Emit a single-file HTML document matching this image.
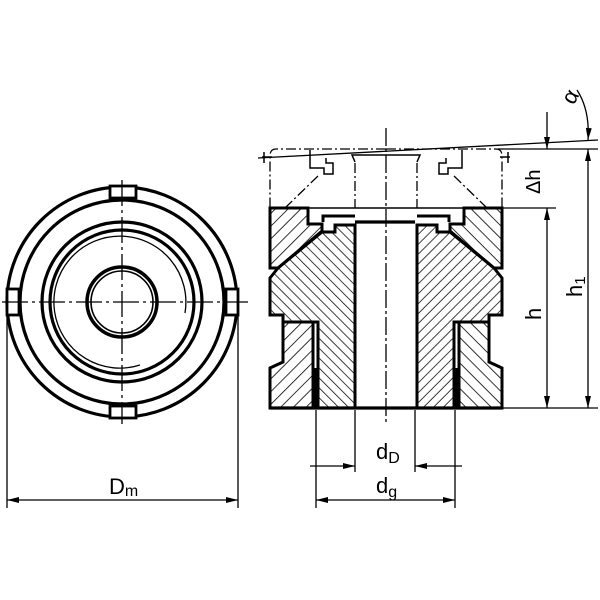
<!DOCTYPE html>
<html><head><meta charset="utf-8"><style>html,body{margin:0;padding:0;background:#fff}svg{display:block}</style></head><body>
<svg width="600" height="600" viewBox="0 0 600 600" xmlns="http://www.w3.org/2000/svg" font-family="Liberation Sans, sans-serif">
<defs>
<pattern id="hA" width="9" height="9" patternUnits="userSpaceOnUse" patternTransform="rotate(45)"><line x1="0" y1="0" x2="0" y2="9" stroke="#000" stroke-width="1.6"/></pattern>
<pattern id="hB" width="7" height="7" patternUnits="userSpaceOnUse" patternTransform="rotate(-45)"><line x1="0" y1="0" x2="0" y2="7" stroke="#000" stroke-width="1.5"/></pattern>
<marker id="ar" viewBox="0 0 12 6" refX="12" refY="3" markerWidth="13" markerHeight="6" orient="auto" markerUnits="userSpaceOnUse"><path d="M0,0L12,3L0,6z" fill="#000"/></marker>
</defs>
<!-- LEFT VIEW -->
<g fill="none" stroke="#000">
<circle cx="122" cy="302" r="115" stroke-width="3.2"/>
<circle cx="122" cy="302" r="102" stroke-width="3.2"/>
<circle cx="122" cy="302" r="80" stroke-width="3.2"/>
<circle cx="122" cy="302" r="72" stroke-width="3.2"/>
<path d="M185,313 A66,66 0 1 0 140,365" stroke-width="1.3"/>
<circle cx="122" cy="302" r="35" stroke-width="3.5"/>
<circle cx="122" cy="302" r="31" stroke-width="1.6"/>
<g stroke-width="2.8" fill="#fff">
<rect x="110" y="186" width="26" height="12"/>
<rect x="110" y="406" width="26" height="12"/>
<rect x="7" y="289" width="12" height="26"/>
<rect x="226" y="289" width="12" height="26"/>
</g>
<g stroke-width="1.3" stroke-dasharray="26,4,3,4">
<line x1="2" y1="302" x2="248" y2="302"/>
<line x1="122" y1="180" x2="122" y2="424"/>
</g>
<line x1="7" y1="315" x2="7" y2="508" stroke-width="1.3"/>
<line x1="238" y1="315" x2="238" y2="508" stroke-width="1.3"/>
</g>
<line x1="122" y1="500" x2="7" y2="500" stroke="#000" stroke-width="1.3" marker-end="url(#ar)"/>
<line x1="122" y1="500" x2="238" y2="500" stroke="#000" stroke-width="1.3" marker-end="url(#ar)"/>
<text x="109" y="494" font-size="22">D<tspan font-size="16" dy="2">m</tspan></text>

<!-- RIGHT VIEW -->
<g id="half">
<polygon points="270,208 308,208 308,224 322,224 322,231 278,268 270,268" fill="url(#hA)" stroke="#000" stroke-width="3"/>
<polygon points="270,278 278,268 322,232 335,232 335,225 355,225 355,408 318,408 318,322 283,322 283,315 270,315" fill="url(#hB)" stroke="#000" stroke-width="3"/>
<polygon points="283,322 313,322 313,408 270,408 270,368 283,362" fill="url(#hA)" stroke="#000" stroke-width="3"/>
<rect x="313" y="368" width="5" height="40" fill="#000"/>
<polyline points="323,222 323,216 355,216" fill="none" stroke="#000" stroke-width="3"/>
<g fill="none" stroke="#000" stroke-width="1.3" stroke-dasharray="10,3,2,3">
<path d="M386,149 L276,149 Q270,149 270,156 L270,208"/>
<line x1="318" y1="176" x2="286" y2="207"/>
<line x1="355" y1="163" x2="355" y2="208"/>
</g>
<g fill="none" stroke="#000" stroke-width="1.5">
<polyline points="310,150 310,168 324,168 324,174 333,174 333,163 326,163 326,158"/>
<polyline points="386,155 352,155 355,162"/>
<line x1="262" y1="157" x2="272" y2="157"/>
<line x1="264" y1="152" x2="264" y2="163"/>
</g>
</g>
<use href="#half" transform="translate(772,0) scale(-1,1)"/>
<line x1="355" y1="222" x2="415" y2="222" stroke="#000" stroke-width="3.2"/>
<line x1="270" y1="408" x2="502" y2="408" stroke="#000" stroke-width="3.2"/>
<line x1="270" y1="208" x2="502" y2="208" stroke="#000" stroke-width="1.6"/>
<line x1="386" y1="128" x2="386" y2="425" stroke="#000" stroke-width="1.3" stroke-dasharray="18,3,3,3"/>
<g stroke="#000" stroke-width="1.3" fill="none">
<line x1="258" y1="158" x2="598" y2="140"/>
<line x1="498" y1="149" x2="598" y2="149"/>
<line x1="502" y1="208" x2="556" y2="208"/>
<line x1="502" y1="408" x2="598" y2="408"/>
<line x1="547" y1="112" x2="547" y2="149" marker-end="url(#ar)"/>
<line x1="547" y1="250" x2="547" y2="208" marker-end="url(#ar)"/>
<line x1="547" y1="300" x2="547" y2="408" marker-end="url(#ar)"/>
<line x1="588" y1="190" x2="588" y2="149" marker-end="url(#ar)"/>
<line x1="588" y1="300" x2="588" y2="408" marker-end="url(#ar)"/>
<line x1="588" y1="190" x2="588" y2="300"/>
<line x1="547" y1="250" x2="547" y2="300"/>
<path d="M577,90 Q590,110 588,140" marker-end="url(#ar)"/>
<line x1="316" y1="410" x2="316" y2="508"/>
<line x1="455" y1="410" x2="455" y2="508"/>
<line x1="355" y1="410" x2="355" y2="472"/>
<line x1="415" y1="410" x2="415" y2="472"/>
<line x1="310" y1="466" x2="355" y2="466" marker-end="url(#ar)"/>
<line x1="462" y1="466" x2="415" y2="466" marker-end="url(#ar)"/>
<line x1="386" y1="500" x2="316" y2="500" marker-end="url(#ar)"/>
<line x1="386" y1="500" x2="455" y2="500" marker-end="url(#ar)"/>
</g>
<text x="540" y="194" font-size="20" transform="rotate(-90 540 194)">Δh</text>
<text x="541" y="320" font-size="22" transform="rotate(-90 541 320)">h</text>
<text x="582" y="297" font-size="22" transform="rotate(-90 582 297)">h<tspan font-size="15" dy="3">1</tspan></text>
<text x="566" y="103" font-size="22" transform="rotate(-60 572 98)">α</text>
<text x="376" y="459" font-size="22">d<tspan font-size="16" dy="4">D</tspan></text>
<text x="376" y="493" font-size="22">d<tspan font-size="16" dy="4">g</tspan></text>
</svg>
</body></html>
